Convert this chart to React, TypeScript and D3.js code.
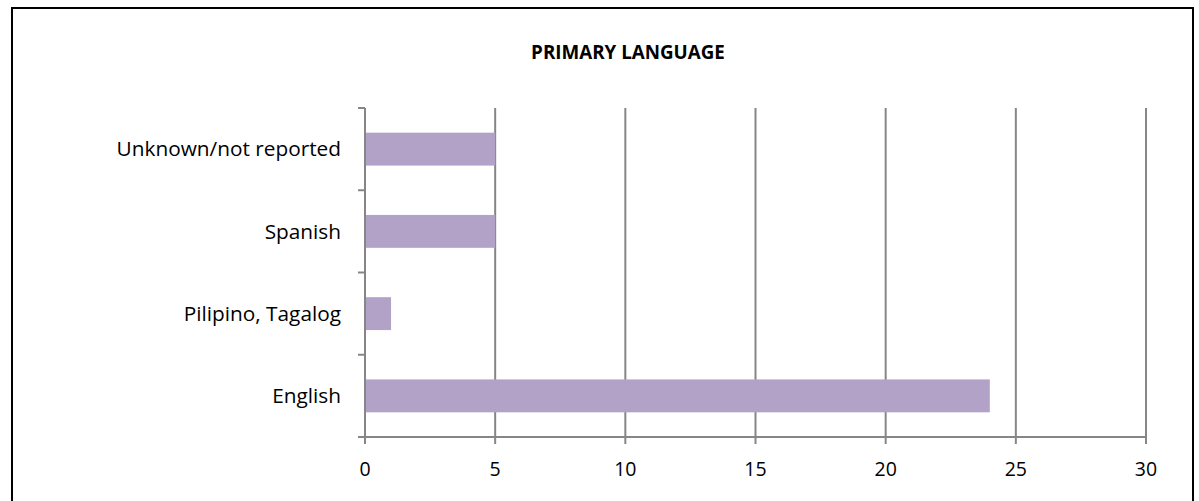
import React from "react";
import * as d3 from "d3";

const categories = ["Unknown/not reported", "Spanish", "Pilipino, Tagalog", "English"];
const values = [5, 5, 1, 24];
const xTicks = [0, 5, 10, 15, 20, 25, 30];
const title = "PRIMARY LANGUAGE";

const W = 1199;
const H = 501;
const FONT = "'Open Sans', 'Liberation Sans', sans-serif";

export default function App() {
  const left = 365;
  const right = 1146;
  const top = 108;
  const bottom = 437;
  const x = d3.scaleLinear().domain([0, 30]).range([left, right]);
  const y = d3.scaleBand<string>().domain(categories).range([top, bottom]).paddingInner(0.6).paddingOuter(0.3);
  const band = d3.scaleBand<string>().domain(categories).range([top, bottom]);
  const grid = "#868686";
  return (
    <svg width={W} height={H} style={{ position: "absolute", left: 0, top: 0, background: "#fff" }}>
      <rect x={12} y={8} width={1181} height={520} fill="#fff" stroke="#000" strokeWidth={2} />
      <text x={628} y={52} dy="0.35em" textAnchor="middle" fontFamily={FONT} fontWeight="bold" fontSize={18.8} fill="#000">
        {title}
      </text>
      {xTicks.map((t) => (
        <g key={t}>
          {t > 0 && <line x1={x(t)} x2={x(t)} y1={top} y2={bottom} stroke={grid} strokeWidth={2} />}
          <line x1={x(t)} x2={x(t)} y1={bottom} y2={bottom + 7} stroke={grid} strokeWidth={2} />
          <text x={x(t)} y={469} dy="0.35em" textAnchor="middle" fontFamily={FONT} fontSize={19.5} fill="#000">
            {t}
          </text>
        </g>
      ))}
      {categories.map((c, i) => (
        <rect key={c} x={x(0)} y={y(c)} width={x(values[i]) - x(0)} height={y.bandwidth()} fill="#B3A2C7" />
      ))}
      <line x1={x(0)} x2={x(0)} y1={top} y2={bottom} stroke={grid} strokeWidth={2} />
      <line x1={x(0) - 7} x2={right + 1} y1={bottom} y2={bottom} stroke={grid} strokeWidth={2} />
      {categories.map((c) => (
        <line key={c} x1={x(0) - 7} x2={x(0)} y1={band(c)} y2={band(c)} stroke={grid} strokeWidth={2} />
      ))}
      {categories.map((c) => (
        <text key={c} x={341} y={(band(c) as number) + band.bandwidth() / 2} dy="0.35em" textAnchor="end" fontFamily={FONT} fontSize={20.8} fill="#000">
          {c}
        </text>
      ))}
    </svg>
  );
}
